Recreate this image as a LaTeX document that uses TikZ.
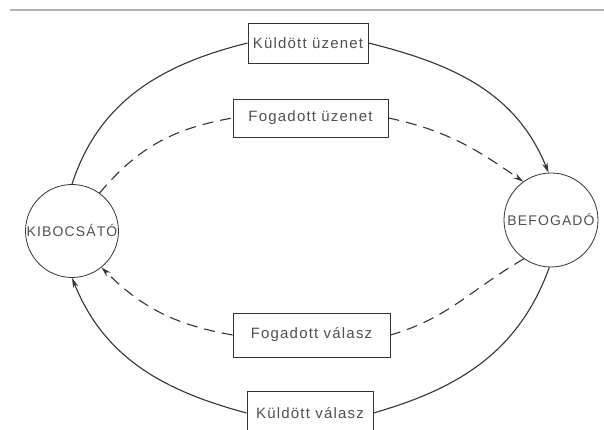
\documentclass[tikz,border=0pt]{standalone}
\usepackage{fontspec}
\setmainfont{Liberation Sans}
\usetikzlibrary{arrows.meta}
\definecolor{ink}{HTML}{333333}
\definecolor{txt}{HTML}{505050}
\tikzset{
  msgbox/.style={draw=ink, line width=0.9pt, rectangle, inner sep=0pt, minimum height=#1},
  msgbox/.default=44pt,
  party/.style={draw=ink, line width=0.8pt, circle, inner sep=0pt},
  lbl/.style={text=txt, font=\fontsize{15}{17}\selectfont\addfontfeatures{LetterSpace=8}},
  plbl/.style={text=txt, font=\fontsize{14}{16}\selectfont\addfontfeatures{LetterSpace=8}},
  conn/.style={draw=ink, line width=1.1pt},
  dconn/.style={conn, dash pattern=on 11pt off 7pt},
  tip/.style={-{Stealth[length=10pt,width=5.5pt]}}
}
\begin{document}
\begin{tikzpicture}[x=1pt,y=1pt]
\useasboundingbox[fill=white] (0,0) rectangle (604,430);
\draw[gray!60, line width=2pt] (10,420) -- (604,420);

\node[party, minimum size=93pt, plbl] (k) at (72,199) {KIBOCSÁTÓ};
\node[party, minimum size=94pt, plbl] (b) at (551,210) {BEFOGADÓ};

\node[msgbox=40pt, minimum width=120pt, lbl] (ku) at (308,387) {Küldött üzenet};
\node[msgbox=38pt, minimum width=155pt, lbl] (fu) at (310.5,312) {Fogadott üzenet};
\node[msgbox=44pt, minimum width=157pt, lbl] (fv) at (311.5,95) {Fogadott válasz};
\node[msgbox=44pt, minimum width=126pt, lbl] (kv) at (310,17) {Küldött válasz};

% solid outer loop
\draw[conn] (k.north) to[out=72, in=194] (ku.west);
\draw[conn, tip] (ku.east) to[out=-14, in=112] (b.93);
\draw[conn] (b.268) to[out=250, in=16] (kv.east);
\draw[conn, tip] (kv.west) to[out=165, in=292] (k.south);

% dashed inner loop
\draw[dconn] (k.54) to[out=50, in=190] (fu.west);
\draw[dconn, tip] (fu.east) to[out=-12, in=145] (b.126);
\draw[dconn] (b.235) to[out=210, in=16] (fv.east);
\draw[dconn, tip] (fv.west) to[out=170, in=315] (k.309);
\end{tikzpicture}
\end{document}
